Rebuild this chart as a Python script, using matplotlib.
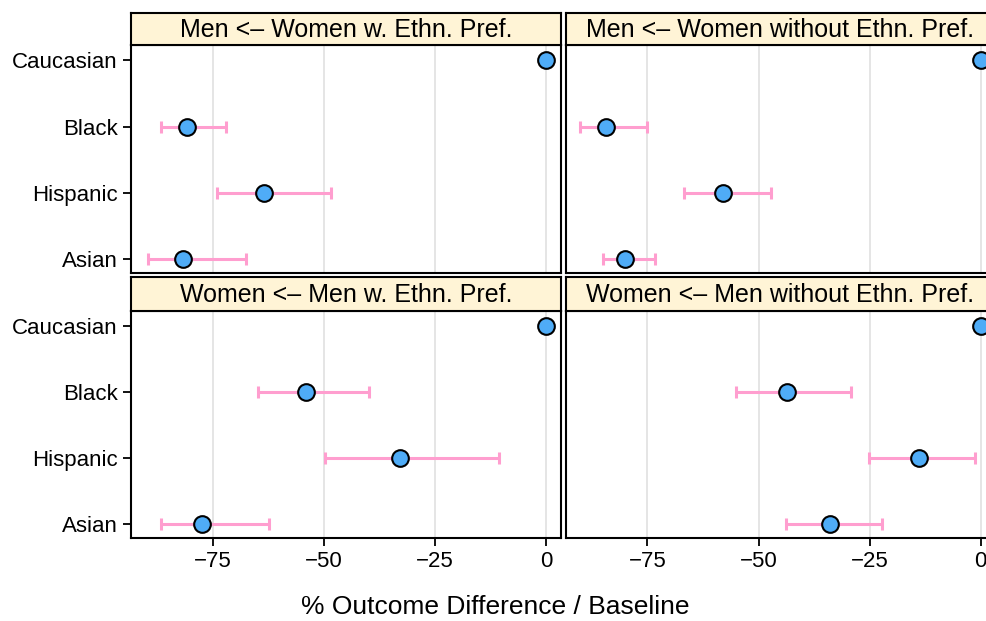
import matplotlib
matplotlib.use("Agg")
import matplotlib.pyplot as plt

plt.rcParams['font.family'] = ['Liberation Sans', 'DejaVu Sans']

categories = ["Caucasian", "Black", "Hispanic", "Asian"]
panel_titles = ["Men <\u2013 Women w. Ethn. Pref.", "Men <\u2013 Women without Ethn. Pref.",
                "Women <\u2013 Men w. Ethn. Pref.", "Women <\u2013 Men without Ethn. Pref."]

# values per panel: Caucasian, Black, Hispanic, Asian
est_mw_pref = [0, -80.9, -63.5, -81.7]
lo_mw_pref = [None, -86.8, -74.2, -89.6]
hi_mw_pref = [None, -72.2, -48.4, -67.5]

est_mw_nopref = [0, -84.4, -58.0, -80.1]
lo_mw_nopref = [None, -90.2, -66.7, -85.0]
hi_mw_nopref = [None, -75.1, -47.1, -73.3]

est_wm_pref = [0, -54.0, -32.9, -77.6]
lo_wm_pref = [None, -64.9, -49.9, -86.7]
hi_wm_pref = [None, -40.0, -10.6, -62.3]

est_wm_nopref = [0, -43.5, -14.0, -34.0]
lo_wm_nopref = [None, -55.0, -25.2, -43.8]
hi_wm_nopref = [None, -29.1, -1.2, -22.2]

xticks = [-75, -50, -25, 0]

panels = [
    (est_mw_pref, lo_mw_pref, hi_mw_pref),
    (est_mw_nopref, lo_mw_nopref, hi_mw_nopref),
    (est_wm_pref, lo_wm_pref, hi_wm_pref),
    (est_wm_nopref, lo_wm_nopref, hi_wm_nopref),
]

W, H = 986, 621
fig = plt.figure(figsize=(W / 100, H / 100), dpi=100)

# pixel boxes
xcols = [(131.3, 561.0), (565.7, 995.4)]
yrows = [(45.0, 273.3), (310.7, 538.3)]
strip_h = [32.3, 33.4]

strip_color = '#FFF4D6'
pt_color = '#4FACF7'
err_color = '#FF9ECF'

ypos = {c: 4 - i for i, c in enumerate(categories)}

for idx, (est, lo, hi) in enumerate(panels):
    r, c = divmod(idx, 2)
    x0, x1 = xcols[c]
    y0, y1 = yrows[r]
    ax = fig.add_axes([x0 / W, 1 - y1 / H, (x1 - x0) / W, (y1 - y0) / H])
    ax.set_xlim(-93.4, 3.3)
    ax.set_ylim(0.79, 4.23)
    for xt in xticks:
        ax.axvline(xt, color='#E3E3E3', lw=1.3, zorder=0)
    for cat, e, l, h in zip(categories, est, lo, hi):
        y = ypos[cat]
        if l is not None:
            ax.errorbar([e], [y], xerr=[[e - l], [h - e]], fmt='none',
                        ecolor=err_color, elinewidth=2.2, capsize=4.3,
                        capthick=2.2, zorder=2)
        ax.plot([e], [y], 'o', ms=12, mfc=pt_color, mec='black', mew=1.5,
                zorder=3, clip_on=False)
    for sp in ax.spines.values():
        sp.set_linewidth(1.5)
    ax.set_yticks([ypos[cat] for cat in categories])
    if c == 0:
        ax.set_yticklabels(categories, fontsize=16)
        ax.tick_params(axis='y', length=6, width=1.3, pad=4)
    else:
        ax.tick_params(axis='y', left=False, labelleft=False)
    ax.set_xticks(xticks)
    if r == 1:
        ax.set_xticklabels([f"\u2212{abs(v)}" if v < 0 else str(v) for v in xticks], fontsize=16)
        ax.tick_params(axis='x', length=6, width=1.3, pad=3)
    else:
        ax.tick_params(axis='x', bottom=False, labelbottom=False)

    # strip
    sax = fig.add_axes([x0 / W, 1 - y0 / H, (x1 - x0) / W, strip_h[r] / H])
    sax.set_xlim(0, 1)
    sax.set_ylim(0, 1)
    sax.set_facecolor(strip_color)
    sax.set_xticks([])
    sax.set_yticks([])
    for sp in sax.spines.values():
        sp.set_linewidth(1.5)
    sax.text(0.5, 0.47, panel_titles[idx], ha='center', va='center', fontsize=18)

fig.text(495 / W, 1 - 606.5 / H, "% Outcome Difference / Baseline", ha='center',
         va='center', fontsize=19)

fig.savefig("out.png", dpi=100)
